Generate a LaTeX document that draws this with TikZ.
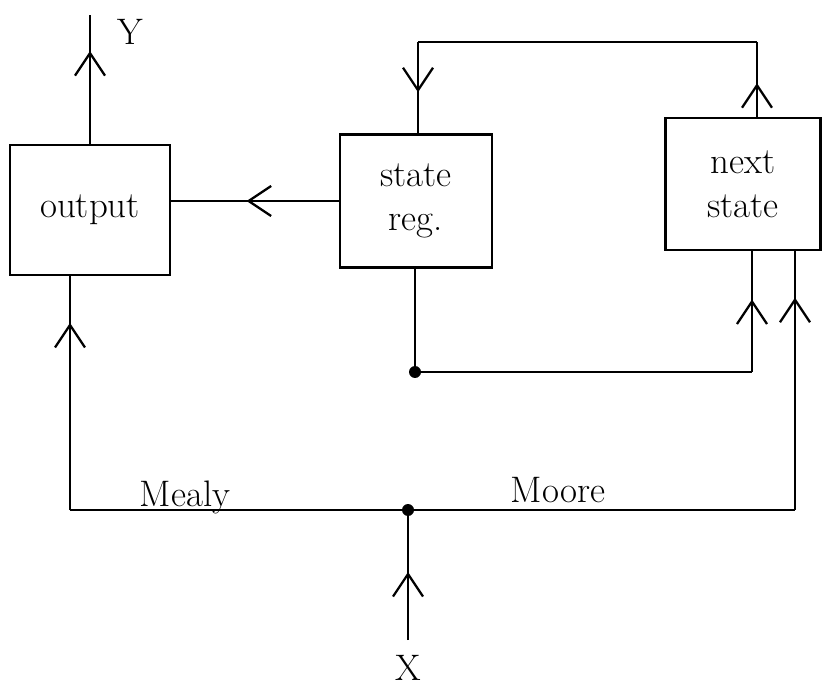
\documentclass[tikz,border=0pt]{standalone}
\usetikzlibrary{arrows.meta,decorations.markings}
\tikzset{
  wire/.style={line width=1.3pt},
  blk/.style={draw, line width=1.3pt, align=center, inner sep=0pt,
    font=\fontsize{21}{25}\selectfont},
  lbl/.style={font=\fontsize{21}{25}\selectfont},
  midarr/.style={postaction={decorate},
    decoration={markings, mark=at position #1 with
      {\arrow{Straight Barb[length=4.5mm,width=6mm,line width=1.3pt]}}}},
  dot/.style={circle, fill, inner sep=0pt, minimum size=2.4mm},
}
\begin{document}
\begin{tikzpicture}[x=0.02cm,y=-0.02cm]
\useasboundingbox (0,0) rectangle (825,689);
% blocks
\node[blk, minimum width=3.2cm, minimum height=2.6cm] (out) at (90,210) {output};
\node[blk, minimum width=3.04cm, minimum height=2.66cm] (reg) at (416,201) {state\\reg.};
\node[blk, minimum width=3.1cm, minimum height=2.64cm] (nxt) at (743,184) {next\\state};
% inputs / outputs
\coordinate (yend) at (90,15);
\node[lbl] (ylab) at (130,32) {Y};
\node[lbl] (xlab) at (408,668) {X};
\coordinate (xend) at (408,640);
% wire corners
\coordinate (tr) at (757,42);
\coordinate (tl) at (418,42);
\node[dot] (fb) at (415,372) {};
\coordinate (fbr) at (752,372);
\node[dot] (xin) at (408,510) {};
\coordinate (ml) at (70,510);
\coordinate (mr) at (795,510);
% output to Y
\draw[wire, midarr=0.72] (out.north) -- (yend);
% state reg to output
\draw[wire, midarr=0.55] (reg.west) -- (out.east |- reg.west);
% next state loop back to state reg
\draw[wire, midarr=0.45] (nxt.north -| tr) -- (tr);
\draw[wire] (tr) -- (tl);
\draw[wire, midarr=0.55] (tl) -- (reg.north -| tl);
% state feedback into next state
\draw[wire] (reg.south -| fb) -- (fb) -- (fbr);
\draw[wire, midarr=0.6] (fbr) -- (nxt.south -| fbr);
% input X
\draw[wire, midarr=0.55] (xend) -- (xin);
% Mealy path
\draw[wire] (xin) -- (ml);
\draw[wire, midarr=0.8] (ml) -- (out.south -| ml);
% Moore path
\draw[wire] (xin) -- (mr);
\draw[wire, midarr=0.82] (mr) -- (nxt.south -| mr);
% path labels
\node[lbl] (mealy) at (185,497) {Mealy};
\node[lbl] (moore) at (558,490) {Moore};
\end{tikzpicture}
\end{document}
